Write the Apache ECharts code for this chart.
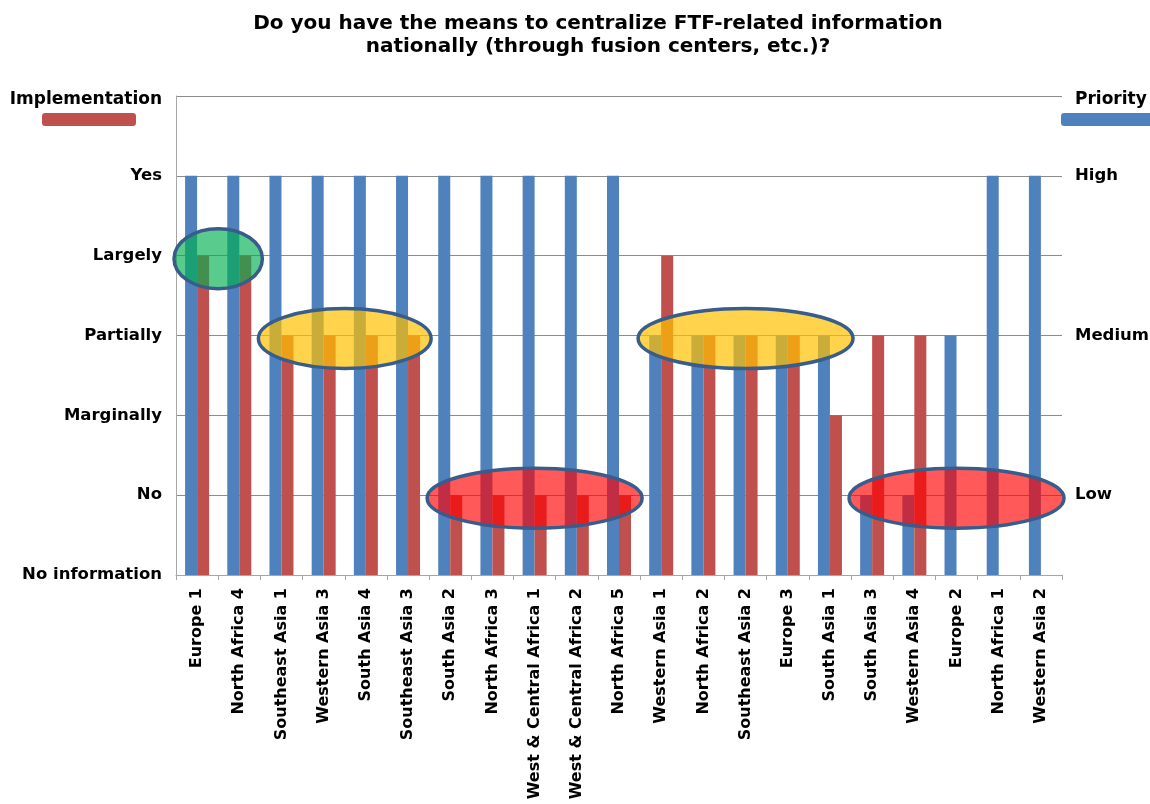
<!DOCTYPE html>
<html>
<head>
<meta charset="utf-8">
<script src="https://cdn.jsdelivr.net/npm/echarts@6/dist/echarts.min.js"></script>
<style>
  html, body { margin: 0; padding: 0; background: #fff; }
  #main { width: 1150px; height: 804px; }
</style>
</head>
<body>
<div id="main"></div>
<script>
var categories = ['Europe 1', 'North Africa 4', 'Southeast Asia 1', 'Western Asia 3', 'South Asia 4',
    'Southeast Asia 3', 'South Asia 2', 'North Africa 3', 'West & Central Africa 1', 'West & Central Africa 2',
    'North Africa 5', 'Western Asia 1', 'North Africa 2', 'Southeast Asia 2', 'Europe 3', 'South Asia 1',
    'South Asia 3', 'Western Asia 4', 'Europe 2', 'North Africa 1', 'Western Asia 2'];
// priority: 1 = Low, 3 = Medium, 5 = High
var priority = [5, 5, 5, 5, 5, 5, 5, 5, 5, 5, 5, 3, 3, 3, 3, 3, 1, 1, 3, 5, 5];
// implementation: 0 = No information ... 5 = Yes
var implementation = [4, 4, 3, 3, 3, 3, 1, 1, 1, 1, 1, 4, 3, 3, 3, 2, 3, 3, 0, 0, 0];
var implLabels = ['No information', 'No', 'Marginally', 'Partially', 'Largely', 'Yes', ''];
var priorityLabels = {1: 'Low', 3: 'Medium', 5: 'High'};
// highlighted groups: first / last category index, level, colour
var groups = [
    {from: 0, to: 1, level: 4, color: 'rgba(0,176,80,0.65)'},
    {from: 2, to: 5, level: 3, color: 'rgba(255,192,0,0.7)'},
    {from: 6, to: 10, level: 1, color: 'rgba(255,0,0,0.65)'},
    {from: 11, to: 15, level: 3, color: 'rgba(255,192,0,0.7)'},
    {from: 16, to: 20, level: 1, color: 'rgba(255,0,0,0.65)'}
];

var font = 'DejaVu Sans, Verdana, sans-serif';
var chart = echarts.init(document.getElementById('main'));

var option = {
    animation: false,
    title: {
        text: 'Do you have the means to centralize FTF-related information\nnationally (through fusion centers, etc.)?',
        left: 593,
        textAlign: 'center',
        top: 7,
        textStyle: {fontFamily: font, fontSize: 20, fontWeight: 'bold', color: '#000', lineHeight: 23}
    },
    legend: [
        {
            data: [{name: 'Implementation', icon: 'roundRect'}],
            left: 37, top: 108, itemWidth: 94, itemHeight: 13,
            formatter: function () { return ''; },
            selectedMode: false
        },
        {
            data: [{name: 'Priority', icon: 'roundRect'}],
            left: 1056, top: 108, itemWidth: 94, itemHeight: 13,
            formatter: function () { return ''; },
            selectedMode: false
        }
    ],
    grid: {left: 176, right: 88, top: 96, bottom: 229, outerBoundsMode: 'none', containLabel: false},
    xAxis: {
        type: 'category',
        data: categories,
        axisLine: {lineStyle: {color: '#a6a6a6'}},
        axisTick: {show: true, length: 5, lineStyle: {color: '#a6a6a6'}},
        axisLabel: {
            rotate: 90, interval: 0, margin: 13,
            fontFamily: font, fontSize: 16, fontWeight: 'bold', color: '#000'
        }
    },
    yAxis: [
        {
            type: 'value', min: 0, max: 6, interval: 1,
            name: 'Implementation',
            nameLocation: 'end',
            nameGap: -12,
            nameTextStyle: {fontFamily: font, fontSize: 17, fontWeight: 'bold', color: '#000', align: 'right', padding: [0, 14, 0, 0]},
            axisLine: {show: true, lineStyle: {color: '#a6a6a6'}},
            axisTick: {show: false},
            splitLine: {lineStyle: {color: '#8c8c8c'}},
            axisLabel: {
                margin: 14,
                fontFamily: font, fontSize: 16.5, fontWeight: 'bold', color: '#000',
                formatter: function (v) { return implLabels[v] || ''; }
            }
        },
        {
            type: 'value', min: 0, max: 6, interval: 1,
            name: 'Priority',
            nameLocation: 'end',
            nameGap: -12,
            nameTextStyle: {fontFamily: font, fontSize: 17, fontWeight: 'bold', color: '#000', align: 'left', padding: [0, 0, 0, 13]},
            axisLine: {show: false},
            axisTick: {show: false},
            splitLine: {show: false},
            axisLabel: {
                margin: 13,
                fontFamily: font, fontSize: 16.5, fontWeight: 'bold', color: '#000',
                formatter: function (v) { return priorityLabels[v] || ''; }
            }
        }
    ],
    series: [
        {
            name: 'Priority',
            type: 'bar',
            yAxisIndex: 1,
            data: priority,
            barWidth: 12,
            barGap: '0%',
            itemStyle: {color: '#4f81bd'}
        },
        {
            name: 'Implementation',
            type: 'bar',
            yAxisIndex: 0,
            data: implementation,
            barWidth: 12,
            itemStyle: {color: '#c0504d'}
        }
    ]
};
chart.setOption(option);

// ellipses around the groups, placed through the chart's own scales
var graphics = groups.map(function (g) {
    var p0 = chart.convertToPixel({xAxisIndex: 0, yAxisIndex: 0}, [g.from, g.level]);
    var p1 = chart.convertToPixel({xAxisIndex: 0, yAxisIndex: 0}, [g.to, g.level]);
    var step = (p1[0] - p0[0]) / Math.max(g.to - g.from, 1);
    return {
        type: 'ellipse',
        z: 100,
        shape: {
            cx: (p0[0] + p1[0]) / 2,
            cy: p0[1] + 3,
            rx: (p1[0] - p0[0]) / 2 + step / 2 + 2,
            ry: 30
        },
        style: {fill: g.color, stroke: '#385d8a', lineWidth: 3.5}
    };
});
chart.setOption({graphic: graphics});
</script>
</body>
</html>
